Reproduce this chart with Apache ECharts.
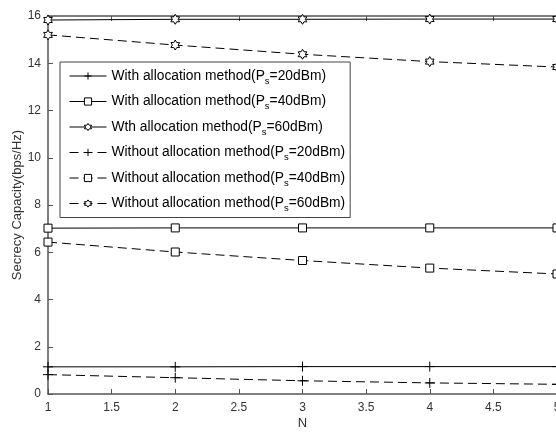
<!DOCTYPE html>
<html>
<head>
<meta charset="utf-8">
<script src="https://cdn.jsdelivr.net/npm/echarts@6/dist/echarts.min.js"></script>
<style>
  html, body { margin: 0; padding: 0; background: #fff; }
  #chart { width: 556px; height: 432px; }
</style>
</head>
<body>
<div id="chart"></div>
<script>
// Number of nodes on the x axis
const nValues = [1, 2, 3, 4, 5];

// Secrecy capacity (bps/Hz) with the allocation method
const with20 = [1.15, 1.15, 1.16, 1.16, 1.16];
const with40 = [7.02, 7.03, 7.03, 7.03, 7.03];
const with60 = [15.83, 15.86, 15.86, 15.87, 15.87];

// Secrecy capacity (bps/Hz) without the allocation method
const without20 = [0.82, 0.69, 0.56, 0.47, 0.41];
const without40 = [6.43, 6.01, 5.65, 5.33, 5.08];
const without60 = [15.2, 14.77, 14.38, 14.07, 13.84];

// Series labels
const seriesNames = [
  'With allocation method(Ps=20dBm)',
  'With allocation method(Ps=40dBm)',
  'Wth allocation method(Ps=60dBm)',
  'Without allocation method(Ps=20dBm)',
  'Without allocation method(Ps=40dBm)',
  'Without allocation method(Ps=60dBm)'
];

const xTicks = { min: 1, max: 5, interval: 0.5 };
const yTicks = { min: 0, max: 16, interval: 2 };

// Marker shapes: plus, square and six-pointed star
const plusSymbol = 'path://M5,0L5,10M0,5L10,5';
const squareSymbol = 'rect';
function hexagramPath() {
  const pts = [];
  for (let i = 0; i < 12; i++) {
    const a = (-90 + i * 30) * Math.PI / 180;
    const r = i % 2 === 0 ? 5 : 5 / Math.sqrt(3);
    pts.push((5 + r * Math.cos(a)).toFixed(3) + ',' + (5 + r * Math.sin(a)).toFixed(3));
  }
  return 'path://M' + pts.join('L') + 'Z';
}
const starSymbol = hexagramPath();

function makeSeries(name, values, symbol, size, dashed) {
  return {
    name: name,
    type: 'line',
    data: nValues.map((n, i) => [n, values[i]]),
    symbol: symbol,
    symbolSize: size,
    symbolKeepAspect: true,
    showAllSymbol: true,
    silent: true,
    lineStyle: { color: '#000', width: 1, type: dashed ? [9, 5] : 'solid' },
    itemStyle: { color: '#fff', borderColor: '#000', borderWidth: 1 },
    emphasis: { disabled: true }
  };
}

const chart = echarts.init(document.getElementById('chart'), null, { renderer: 'canvas' });

const axisColor = '#555';
const textColor = '#333';
const fontFamily = '"Liberation Sans", Arial, Helvetica, sans-serif';

chart.setOption({
  animation: false,
  backgroundColor: '#fff',
  textStyle: { fontFamily: fontFamily },
  grid: { left: 48, top: 16, width: 509, height: 378, containLabel: false, outerBoundsMode: 'none' },
  legend: {
    orient: 'vertical',
    left: 60,
    top: 62,
    padding: [4, 5, 4, 9],
    itemWidth: 37,
    itemHeight: 9,
    itemGap: 5.5,
    backgroundColor: '#fff',
    borderColor: '#444',
    borderWidth: 1,
    selectedMode: false,
    data: seriesNames,
    lineStyle: { width: 1 },
    itemStyle: { borderWidth: 1 },
    formatter: function (name) {
      return name.replace('Ps', 'P{s|s}');
    },
    textStyle: {
      color: '#000',
      fontSize: 13.8,
      fontFamily: fontFamily,
      lineHeight: 16,
      rich: {
        s: { fontSize: 9.5, lineHeight: 9, padding: [10, 0, 0, 0], fontFamily: fontFamily, color: '#000' }
      }
    }
  },
  xAxis: [
    {
      type: 'value',
      min: xTicks.min,
      max: xTicks.max,
      interval: xTicks.interval,
      name: 'N',
      nameLocation: 'middle',
      nameGap: 23,
      nameMoveOverlap: false,
      nameTextStyle: { color: textColor, fontSize: 13 },
      axisLine: { show: true, lineStyle: { color: axisColor, width: 1.5 } },
      axisTick: { show: true, inside: true, length: 5, lineStyle: { color: axisColor } },
      axisLabel: { color: textColor, fontSize: 12, margin: 8, showMaxLabel: true, showMinLabel: true, hideOverlap: false },
      splitLine: { show: false }
    },
    {
      type: 'value',
      position: 'top',
      min: xTicks.min,
      max: xTicks.max,
      interval: xTicks.interval,
      axisLine: { show: true, lineStyle: { color: axisColor, width: 1.5 } },
      axisTick: { show: true, inside: true, length: 5, lineStyle: { color: axisColor } },
      axisLabel: { show: false },
      splitLine: { show: false }
    }
  ],
  yAxis: {
    type: 'value',
    min: yTicks.min,
    max: yTicks.max,
    interval: yTicks.interval,
    name: 'Secrecy Capacity(bps/Hz)',
    nameLocation: 'middle',
    nameGap: 24,
    nameMoveOverlap: false,
    nameTextStyle: { color: textColor, fontSize: 13 },
    axisLine: { show: true, lineStyle: { color: axisColor, width: 1.5 } },
    axisTick: { show: true, inside: true, length: 5, lineStyle: { color: axisColor } },
    axisLabel: { color: textColor, fontSize: 12, margin: 7 },
    splitLine: { show: false }
  },
  series: [
    makeSeries(seriesNames[0], with20, plusSymbol, 10, false),
    makeSeries(seriesNames[1], with40, squareSymbol, 8, false),
    makeSeries(seriesNames[2], with60, starSymbol, 10, false),
    makeSeries(seriesNames[3], without20, plusSymbol, 10, true),
    makeSeries(seriesNames[4], without40, squareSymbol, 8, true),
    makeSeries(seriesNames[5], without60, starSymbol, 10, true)
  ]
});
</script>
</body>
</html>
